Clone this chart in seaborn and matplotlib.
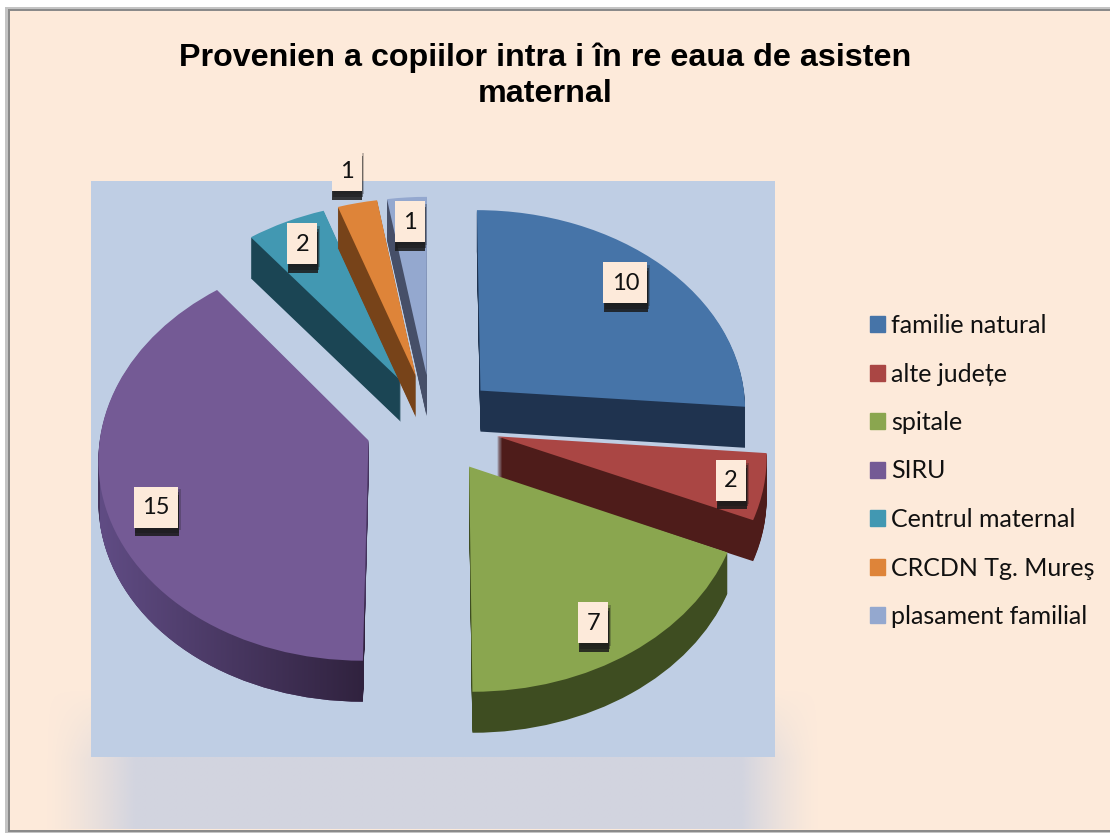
import numpy as np
import matplotlib
matplotlib.use("Agg")
import matplotlib.pyplot as plt
import matplotlib.patches as mpatches
import matplotlib.patheffects as pe
import matplotlib.transforms as mtrans
from matplotlib.path import Path
import seaborn as sns

# ---- data ----
categories = ["familie natural", "alte județe", "spitale", "SIRU",
              "Centrul maternal", "CRCDN Tg. Mureş", "plasament familial"]
values = [10, 2, 7, 15, 2, 1, 1]
title_text = "Provenien a copiilor intra i în re eaua de asisten\nmaternal"

# ---- styles ----
top_colors = ["#4674A8", "#AA4644", "#8AA64F", "#745A95", "#4298B2", "#DE8439", "#94A8CF"]
side_colors = ["#1F334F", "#4E1C1A", "#3E4D21", "#45345E", "#1B4554", "#774319", "#464F68"]
paint_order = [4, 5, 6, 0, 3, 1, 2]
label_radii = [0.82, 0.88, 0.83, 0.83, 0.85, 1.20, 0.85]
label_shift_deg = [2, 0, -2.5, 4, 0, 0, 0]
PEACH = "#FDEADA"
PLOT_BG = "#BFCEE4"

sns.set_theme(style="white")
plt.rcParams["font.family"] = ["Lato", "DejaVu Sans"]

W, H = 1110, 833
fig = plt.figure(figsize=(W / 100, H / 100), dpi=100, facecolor="white")
ax = fig.add_axes([0, 0, 1, 1])


class Perspective(mtrans.Transform):
    """Tilted-plane view of the unit pie, output in pixel units."""
    input_dims = output_dims = 2
    is_separable = False
    has_inverse = False
    def __init__(self, cx=432, cy=424, rx=267, ry=200, k=0.08):
        super().__init__()
        self.p = (cx, cy, rx, ry, k)
    def transform_non_affine(self, xy):
        xy = np.asarray(xy, float)
        cx, cy, rx, ry, k = self.p
        w = 1 + k * xy[:, 1]
        return np.column_stack([cx + rx * xy[:, 0] / w, cy - ry * xy[:, 1] / w])


proj = Perspective()
DEPTH = 41
palette_top = sns.color_palette(top_colors)
palette_side = sns.color_palette(side_colors)

purple_side_paths = []
for d in list(range(DEPTH, 0, -1)) + [0]:
    cols = palette_top if d == 0 else palette_side
    wedges, _ = ax.pie(values, colors=cols, explode=[0.25] * len(values), startangle=90,
                       counterclock=False, radius=1.0, wedgeprops=dict(linewidth=0))
    for i, w in enumerate(wedges):
        shift = mtrans.Affine2D().translate(0, d)
        w.set_transform(proj + shift + ax.transData)
        w.set_clip_on(False)
        w.set_zorder(10 + paint_order.index(i) * 100 + (DEPTH - d) * 0.1)
        if i == 3 and d > 0:
            purple_side_paths.append((proj + shift).transform_path(w.get_path()))
    last_wedges = wedges

ax.set_aspect("auto")
ax.set_xlim(0, W)
ax.set_ylim(H, 0)
ax.set_axis_off()
ax.patch.set_visible(False)

# frame and backgrounds
ax.add_patch(mpatches.Rectangle((0, 0), W, H, fc="white", ec="none", zorder=0))
ax.add_patch(mpatches.Rectangle((5, 7), W, 826, fc="#C4C4C4", ec="none", zorder=0.1))
ax.add_patch(mpatches.Rectangle((8, 9), W, 822.5, fc="#8A8A8A", ec="none", zorder=0.2))
ax.add_patch(mpatches.Rectangle((10, 11), W, 818.5, fc=PEACH, ec="none", zorder=0.3))
ax.add_patch(mpatches.Rectangle((91, 181), 684, 576, fc=PLOT_BG, ec="none", zorder=1))

# soft glow and reflection around the lower part of the plot area
xs = np.linspace(0, 1, 400)
fade_x = np.clip(xs / 0.115, 0, 1) * np.clip((1 - xs) / 0.10, 0, 1)
fade_x = fade_x ** 1.3
ys = np.linspace(0, 1, 160)
fade_y = np.clip(ys / 0.5, 0, 1)
rgba = np.zeros((160, 400, 4))
rgba[..., :3] = matplotlib.colors.to_rgb("#C2CCE2")
rgba[..., 3] = 0.72 * fade_y[:, None] * fade_x[None, :]
ax.imshow(rgba, extent=(45, 820, 829.5, 690), aspect="auto", zorder=0.9, interpolation="bilinear")

# shaded rim of the largest slice (between the side layers and the top face)
rim = np.linspace(0, 1, 300)[None, :]
c0 = np.array(matplotlib.colors.to_rgb("#604C84"))
c1 = np.array(matplotlib.colors.to_rgb("#30223E"))
rim_img = (c0[None, None, :] * (1 - rim[..., None]) + c1[None, None, :] * rim[..., None])
rim_im = ax.imshow(rim_img, extent=(100, 365, 705, 440), aspect="auto",
                   zorder=10 + paint_order.index(3) * 100 + 4.05, interpolation="bilinear")
rim_im.set_clip_path(Path.make_compound_path(*purple_side_paths), ax.transData)

ax.set_xlim(0, W)
ax.set_ylim(H, 0)

# value labels
for w, v, r, sh in zip(last_wedges, values, label_radii, label_shift_deg):
    mid = np.deg2rad((w.theta1 + w.theta2) / 2 + sh)
    ux = w.center[0] + r * np.cos(mid)
    uy = w.center[1] + r * np.sin(mid)
    px, py = proj.transform_non_affine(np.array([[ux, uy]]))[0]
    bw = 30 if v < 10 else 44
    ax.add_patch(mpatches.Rectangle(
        (px - bw / 2, py - 21), bw, 41, fc=PEACH, ec="none", zorder=1000,
        path_effects=[pe.SimplePatchShadow(offset=(2, -2), shadow_rgbFace="k", alpha=0.25),
                      pe.SimplePatchShadow(offset=(1, -4), shadow_rgbFace="k", alpha=0.5),
                      pe.SimplePatchShadow(offset=(0.5, -6), shadow_rgbFace="k", alpha=0.85),
                      pe.Normal()]))
    ax.text(px, py, str(v), ha="center", va="center", fontsize=17, color="#111111", zorder=1001)

# title
ax.text(545, 76, title_text, ha="center", va="center", fontsize=23.2, fontweight="bold",
        family=["Liberation Sans", "DejaVu Sans"], color="black", linespacing=1.24, zorder=5)

# legend
handles = [mpatches.Patch(color=c, label=n) for c, n in zip(palette_top, categories)]
leg = ax.legend(handles=handles, loc="upper left", bbox_to_anchor=(870, 314),
                bbox_transform=ax.transData, frameon=False, fontsize=18,
                handlelength=0.6, handleheight=0.6, handletextpad=0.24,
                labelspacing=1.02, borderpad=0, borderaxespad=0, labelcolor="#111111")
leg.set_zorder(5)

fig.savefig("out.png", dpi=100, facecolor="white")
